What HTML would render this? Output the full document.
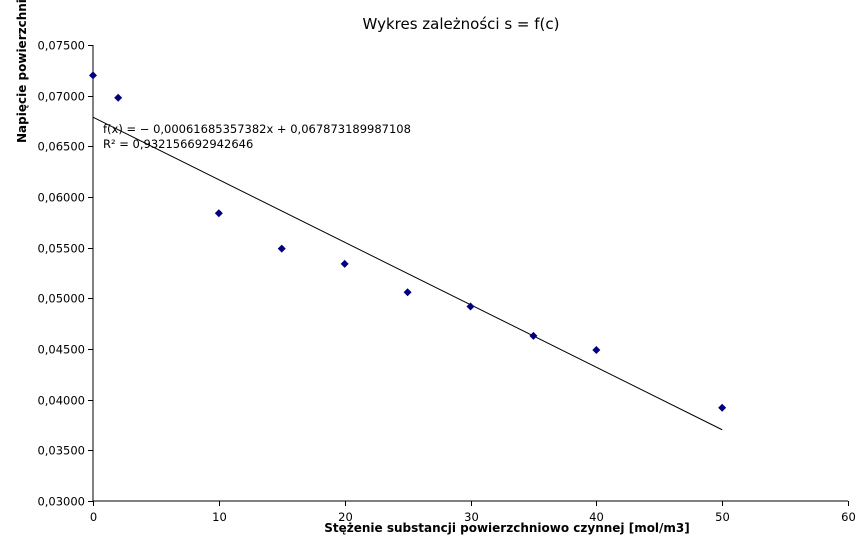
<!DOCTYPE html>
<html><head><meta charset="utf-8"><style>
body{margin:0;background:#fff}
svg{display:block;font-family:"DejaVu Sans","Liberation Sans",sans-serif}
</style></head><body>
<svg width="866" height="548" viewBox="0 0 866 548">
<text x="461" y="29" text-anchor="middle" font-size="15">Wykres zależności s = f(c)</text>
<text transform="translate(26,143) rotate(-90)" font-size="12" font-weight="bold">Napięcie powierzchniowe [N/m]</text>
<text x="507" y="532" text-anchor="middle" font-size="12" font-weight="bold">Stężenie substancji powierzchniowo czynnej [mol/m3]</text>
<g id="axes"></g>
<g id="marks"></g>
<text x="103" y="133" font-size="11.5">f(x) = − 0,00061685357382x + 0,067873189987108</text>
<text x="103" y="148" font-size="11.5">R² = 0,932156692942646</text>
</svg>
<script>
const xs=[0,2,10,15,20,25,30,35,40,50];
const ys=[0.0720,0.0698,0.0584,0.0549,0.0534,0.0506,0.0492,0.0463,0.0449,0.0392];
const yTicks=[0.030,0.035,0.040,0.045,0.050,0.055,0.060,0.065,0.070,0.075];
const xTicks=[0,10,20,30,40,50,60];
const slope=-0.00061685357382, intercept=0.067873189987108;
const X0=93,X1=848,Y0=501,Y1=45;
const sx=v=>X0+(v-0)/60*(X1-X0);
const sy=v=>Y0-(v-0.030)/0.045*(Y0-Y1);
const NS="http://www.w3.org/2000/svg";
const ax=document.getElementById('axes'),mk=document.getElementById('marks');
function mkEl(t,a,p){const e=document.createElementNS(NS,t);for(const k in a)e.setAttribute(k,a[k]);p.appendChild(e);return e;}
let l=mkEl('line',{x1:X0,y1:Y1,x2:X0,y2:Y0,stroke:'#000'},ax);


l=mkEl('line',{x1:X0,y1:Y0,x2:X1,y2:Y0,stroke:'#000'},ax);


yTicks.forEach(v=>{const y=Math.round(sy(v))+0.5;
 mkEl('line',{x1:X0-5,y1:y,x2:X0,y2:y,stroke:'#000'},ax);
 const t=mkEl('text',{x:X0-8,y:y+4,'text-anchor':'end','font-size':'11.5'},ax);
 t.textContent=v.toFixed(5).replace('.',',');
 
 });
xTicks.forEach(v=>{const x=Math.round(sx(v))+0.5;
 mkEl('line',{x1:x,y1:Y0,x2:x,y2:Y0+5,stroke:'#000'},ax);
 const t=mkEl('text',{x:x,y:Y0+20,'text-anchor':'middle','font-size':'11.5'},ax);
 t.textContent=v;
 
 });
const tl=mkEl('line',{x1:sx(0),y1:sy(intercept),x2:sx(50),y2:sy(intercept+slope*50),stroke:'#000'},mk);


xs.forEach((v,i)=>{const x=sx(v),y=sy(ys[i]);
 const p=mkEl('polygon',{points:`${x},${y-4} ${x+4},${y} ${x},${y+4} ${x-4},${y}`,fill:'#00007f'},mk);
 
 });
</script>
</body></html>
